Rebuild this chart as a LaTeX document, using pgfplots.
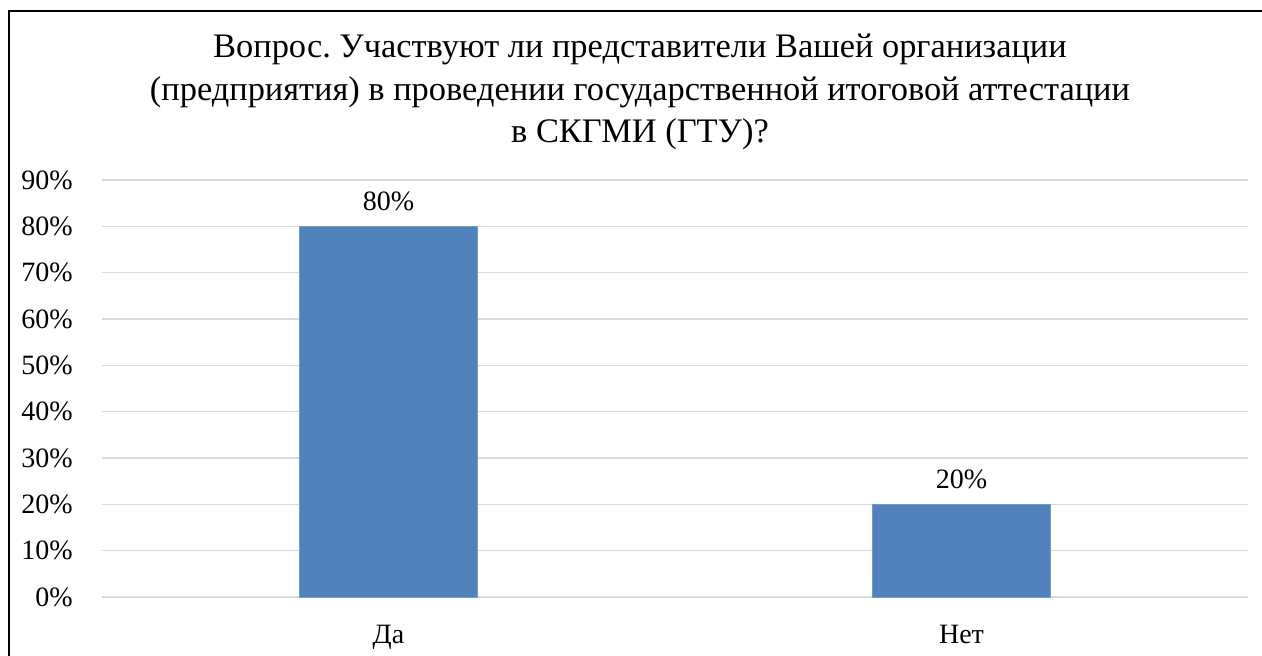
\documentclass[border=0pt]{standalone}
\usepackage{pgfplots}
\pgfplotsset{compat=1.18}
\usepackage{fontspec}
\setmainfont{Liberation Serif}
\definecolor{barblue}{HTML}{4F81BD}
\definecolor{gridgray}{HTML}{D9D9D9}
\frenchspacing
\begin{document}
\begin{tikzpicture}
\begin{axis}[
  at={(51pt,29pt)}, anchor=south west,
  scale only axis, width=573pt, height=208.5pt,
  xmin=-0.5, xmax=1.5, ymin=0, ymax=90,
  ytick={0,10,...,90},
  xtick={0,1}, xticklabels={Да,Нет},
  axis line style={draw=none},
  major tick length=0pt,
  ymajorgrids, grid style={gridgray, line width=0.7pt},
  /pgf/number format/assume math mode=true,
  yticklabel={\pgfmathprintnumber{\tick}\%},
  yticklabel style={font=\fontsize{14}{17}\selectfont, anchor=east, inner sep=0pt, xshift=-14.5pt},
  xticklabel style={font=\fontsize{14}{17}\selectfont, anchor=base, inner sep=0pt, yshift=-23pt},
  ybar, bar width=89pt,
  nodes near coords={\pgfmathprintnumber{\pgfplotspointmeta}\%},
  nodes near coords style={font=\fontsize{14}{17}\selectfont, anchor=base, inner sep=0pt, yshift=8pt},
]
\addplot[fill=barblue, draw=barblue!80!white, line width=0.4pt] coordinates {(0,80) (1,20)};
\end{axis}
\node[anchor=base, font=\fontsize{17.2}{20}\selectfont] at (320pt,298.5pt) {Вопрос. Участвуют ли представители Вашей организации};
\node[anchor=base, font=\fontsize{17.2}{20}\selectfont] at (320pt,277.5pt) {(предприятия) в проведении государственной итоговой аттестации};
\node[anchor=base, font=\fontsize{17.2}{20}\selectfont] at (320pt,256.5pt) {в СКГМИ (ГТУ)?};
\draw[line width=0.7pt] (4.5pt,-2pt) -- (4.5pt,322pt) -- (633pt,322pt);
\pgfresetboundingbox
\path (0,0) rectangle (631pt,327.5pt);
\end{tikzpicture}
\end{document}
